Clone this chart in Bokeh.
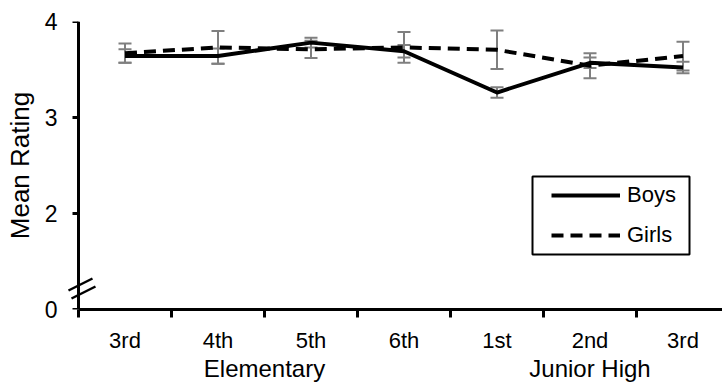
from bokeh.plotting import figure
from bokeh.models import (Range1d, FixedTicker, LinearAxis, Whisker, TeeHead,
                          ColumnDataSource, Legend, LegendItem, Arrow)
from bokeh.embed import file_html
from bokeh.resources import INLINE

# Grade within school, and the two school levels
grades = ["3rd", "4th", "5th", "6th", "1st", "2nd", "3rd"]
schools = ["Elementary", "Junior High"]
school_first = [0, 4]   # index of each school's first grade
school_last = [3, 6]    # index of each school's last grade

# Mean ratings with their error-bar half widths
boys_mean = [3.64, 3.64, 3.78, 3.69, 3.26, 3.57, 3.52]
boys_err = [0.07, 0.08, 0.05, 0.065, 0.055, 0.055, 0.06]
girls_mean = [3.67, 3.73, 3.71, 3.73, 3.705, 3.54, 3.64]
girls_err = [0.10, 0.17, 0.09, 0.16, 0.20, 0.13, 0.15]

# The value axis is broken: its bottom tick stands for 0
y_tick_values = [1, 2, 3, 4]
y_tick_labels = ["0", "2", "3", "4"]

FONT = "Liberation Sans"
GREY = "#7f7f7f"

# pixel scale of the plotting frame
PX_X = 93.0          # pixels per grade
PX_Y = 96.0          # pixels per rating unit
X_AXIS = -0.5        # where the value axis crosses
Y_AXIS = 1.0         # where the grade axis crosses
PAD_LEFT = 12        # room inside the frame, left of the value axis
FRAME_W = 656

x = list(range(len(grades)))
src = ColumnDataSource(dict(
    x=x,
    boys=boys_mean,
    girls=girls_mean,
    boys_lo=[m - e for m, e in zip(boys_mean, boys_err)],
    boys_hi=[m + e for m, e in zip(boys_mean, boys_err)],
    girls_lo=[m - e for m, e in zip(girls_mean, girls_err)],
    girls_hi=[m + e for m, e in zip(girls_mean, girls_err)],
))

x_start = X_AXIS - PAD_LEFT / PX_X
p = figure(width=722, height=387, output_backend="svg", toolbar_location=None,
           x_range=Range1d(x_start, x_start + FRAME_W / PX_X),
           y_range=Range1d(Y_AXIS, 4),
           x_axis_type=None, y_axis_type=None,
           min_border_left=66, min_border_right=0,
           min_border_top=21, min_border_bottom=78)
p.outline_line_color = None
p.background_fill_color = "white"
p.border_fill_color = "white"

y_ticker = FixedTicker(ticks=y_tick_values, minor_ticks=[])

# value-axis tick labels and title (at the frame edge)
ylabels = LinearAxis(ticker=y_ticker)
ylabels.major_label_overrides = {v: t for v, t in zip(y_tick_values, y_tick_labels)}
ylabels.axis_line_color = None
ylabels.major_tick_line_color = None
ylabels.major_tick_out = 0
ylabels.major_tick_in = 0
ylabels.major_label_standoff = 9
ylabels.major_label_text_font = FONT
ylabels.major_label_text_font_size = "23px"
ylabels.major_label_text_color = "black"
ylabels.axis_label = "Mean Rating"
ylabels.axis_label_text_font = FONT
ylabels.axis_label_text_font_size = "26px"
ylabels.axis_label_text_font_style = "normal"
ylabels.axis_label_text_color = "black"
ylabels.axis_label_standoff = 7
p.add_layout(ylabels, "left")

# value-axis line and ticks, placed a little inside the frame so the
# break marks have room on both sides of it
yline = LinearAxis(ticker=y_ticker, fixed_location=X_AXIS)
yline.axis_line_width = 3
yline.axis_line_color = "black"
yline.major_tick_line_width = 3
yline.major_tick_line_color = "black"
yline.major_tick_out = 0
yline.major_tick_in = 6
yline.major_label_standoff = 0
yline.major_label_text_font_size = "0px"
yline.major_label_text_alpha = 0
p.add_layout(yline, "right")

# grade axis: labels at category centres, tick marks between categories
boundaries = [i - 0.5 for i in range(len(grades) + 1)]
xaxis = LinearAxis(ticker=FixedTicker(ticks=x, minor_ticks=boundaries),
                   bounds=(X_AXIS, boundaries[-1]))
xaxis.major_label_overrides = {i: g for i, g in zip(x, grades)}
xaxis.axis_line_width = 3
xaxis.axis_line_color = "black"
xaxis.major_tick_out = 0
xaxis.major_tick_in = 0
xaxis.minor_tick_out = 8
xaxis.minor_tick_in = 0
xaxis.minor_tick_line_width = 3
xaxis.minor_tick_line_color = "black"
xaxis.major_label_standoff = 10
xaxis.major_label_text_font = FONT
xaxis.major_label_text_font_size = "22px"
xaxis.major_label_text_color = "black"
p.add_layout(xaxis, "below")

# school axis: one label centred under each school's grades
school_centres = [(a + b) / 2 for a, b in zip(school_first, school_last)]
saxis = LinearAxis(ticker=FixedTicker(ticks=school_centres, minor_ticks=[]))
saxis.major_label_overrides = {c: s for c, s in zip(school_centres, schools)}
saxis.axis_line_color = None
saxis.major_tick_line_color = None
saxis.minor_tick_line_color = None
saxis.major_label_standoff = -7
saxis.major_label_text_font = FONT
saxis.major_label_text_font_size = "24px"
saxis.major_label_text_color = "black"
p.add_layout(saxis, "below")

r_boys = p.line("x", "boys", source=src, line_color="black", line_width=4,
                line_join="round")
r_girls = p.line("x", "girls", source=src, line_color="black", line_width=4,
                 line_dash="12 7", line_join="round")

for lo, hi in (("boys_lo", "boys_hi"), ("girls_lo", "girls_hi")):
    p.add_layout(Whisker(
        source=src, base="x", lower=lo, upper=hi,
        line_color=GREY, line_width=2,
        upper_head=TeeHead(size=13, line_color=GREY, line_width=2),
        lower_head=TeeHead(size=13, line_color=GREY, line_width=2),
    ))

# axis-break marks across the value axis, offsets in pixels from the axis
for cx, cy in ((2, 25), (5, 17)):
    p.add_layout(Arrow(
        end=None,
        x_start=X_AXIS + (cx - 12) / PX_X, y_start=Y_AXIS + (cy - 6) / PX_Y,
        x_end=X_AXIS + (cx + 12) / PX_X, y_end=Y_AXIS + (cy + 6) / PX_Y,
        line_color="black", line_width=2.5,
    ))

legend = Legend(
    items=[LegendItem(label="Boys", renderers=[r_boys]),
           LegendItem(label="Girls", renderers=[r_girls])],
    location=(485, 59), padding=0, margin=0, spacing=10,
    glyph_width=69, glyph_height=30, label_height=30, label_standoff=7,
    border_line_color=None, background_fill_alpha=0,
    label_text_font=FONT, label_text_font_size="22px", label_text_color="black",
)
p.add_layout(legend)

# frame around the legend (pixel offsets from the axes' crossing point)
p.quad(left=[X_AXIS + 454 / PX_X], right=[X_AXIS + 611 / PX_X],
       bottom=[Y_AXIS + 55 / PX_Y], top=[Y_AXIS + 133 / PX_Y],
       fill_color=None, line_color="black", line_width=2)

open("out.html", "w").write(file_html(p, INLINE))
